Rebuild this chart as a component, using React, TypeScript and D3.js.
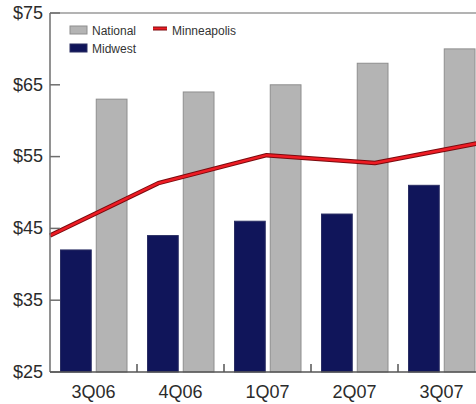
import React, { useEffect, useRef } from "react";
import * as d3 from "d3";

const categories = ["3Q06", "4Q06", "1Q07", "2Q07", "3Q07"];
const series = ["Midwest", "National"];
const midwest = [42, 44, 46, 47, 51];
const national = [63, 64, 65, 68, 70];
const lineLabels = ["p1", "p2", "p3", "p4", "p5"];
const minneapolis = [44, 51.3, 55.2, 54.1, 57];
const yTicks = [25, 35, 45, 55, 65, 75];

const W = 476;
const H = 404;
const FONT = "'Liberation Sans', Arial, sans-serif";

export default function App() {
  const ref = useRef<SVGSVGElement | null>(null);

  useEffect(() => {
    const svg = d3.select(ref.current);
    svg.selectAll("*").remove();

    const left = 50;
    const top = 13;
    const bottom = 372;
    const y = d3.scaleLinear().domain([25, 75]).range([bottom, top]);
    const x0 = d3.scaleBand().domain(categories).range([left, left + 87 * categories.length]).padding(0);
    const x1 = d3.scaleBand().domain(series).range([10.5, 77]).paddingInner(0.14);
    const xl = d3.scalePoint().domain(lineLabels).range([left, left + 4 * 108.3]);

    const colors: Record<string, string> = { Midwest: "#10155a", National: "#b4b4b4" };
    const strokes: Record<string, string> = { Midwest: "#2a2e63", National: "#8e8e8e" };
    const vals: Record<string, number[]> = { Midwest: midwest, National: national };

    // frame top line
    svg.append("line").attr("x1", left).attr("x2", W).attr("y1", top).attr("y2", top)
      .attr("stroke", "#9a9a9a").attr("stroke-width", 1.5);

    // bars
    const g = svg.append("g");
    categories.forEach((c, i) => {
      series.forEach((s) => {
        const v = vals[s][i];
        g.append("rect")
          .attr("x", (x0(c) as number) + (x1(s) as number))
          .attr("y", y(v))
          .attr("width", x1.bandwidth())
          .attr("height", bottom - y(v))
          .attr("fill", colors[s])
          .attr("stroke", strokes[s])
          .attr("stroke-width", 1);
      });
    });

    // line
    const line = d3.line<number>().x((_, i) => xl(lineLabels[i]) as number).y((d) => y(d));
    svg.append("path").datum(minneapolis).attr("d", line).attr("fill", "none")
      .attr("stroke", "#7a0a0e").attr("stroke-width", 4.5).attr("stroke-linejoin", "round");
    svg.append("path").datum(minneapolis).attr("d", line).attr("fill", "none")
      .attr("stroke", "#ee1c24").attr("stroke-width", 2.5).attr("stroke-linejoin", "round");

    // y axis
    svg.append("line").attr("x1", left).attr("x2", left).attr("y1", top).attr("y2", bottom)
      .attr("stroke", "#6e6e6e").attr("stroke-width", 1.5);
    yTicks.forEach((t) => {
      svg.append("line").attr("x1", left).attr("x2", left + 10).attr("y1", y(t)).attr("y2", y(t))
        .attr("stroke", "#6e6e6e").attr("stroke-width", 1.5);
      svg.append("text").attr("x", 43).attr("y", y(t) + 1).attr("text-anchor", "end")
        .attr("dominant-baseline", "middle").attr("font-family", FONT).attr("font-size", 18)
        .attr("fill", "#2b2b2b").text(`$${t}`);
    });

    // x axis
    svg.append("line").attr("x1", left).attr("x2", W).attr("y1", bottom).attr("y2", bottom)
      .attr("stroke", "#555").attr("stroke-width", 1.5);
    categories.forEach((c) => {
      const xs = x0(c) as number;
      if (xs > left) {
        svg.append("line").attr("x1", xs).attr("x2", xs).attr("y1", bottom).attr("y2", bottom - 8)
          .attr("stroke", "#555").attr("stroke-width", 1.5);
      }
      svg.append("text").attr("x", xs + x0.bandwidth() / 2).attr("y", 398).attr("text-anchor", "middle")
        .attr("font-family", FONT).attr("font-size", 18).attr("fill", "#2b2b2b").text(c);
    });
    const endTick = left + 87 * categories.length;
    if (endTick < W) {
      svg.append("line").attr("x1", endTick).attr("x2", endTick).attr("y1", bottom).attr("y2", bottom - 8)
        .attr("stroke", "#555").attr("stroke-width", 1.5);
    }

    // legend
    const lg = svg.append("g").attr("font-family", FONT).attr("font-size", 12).attr("fill", "#333");
    lg.append("rect").attr("x", 70).attr("y", 26).attr("width", 17).attr("height", 8)
      .attr("fill", colors.National).attr("stroke", strokes.National);
    lg.append("text").attr("x", 92).attr("y", 34.5).text("National");
    lg.append("rect").attr("x", 70).attr("y", 44).attr("width", 17).attr("height", 8)
      .attr("fill", colors.Midwest).attr("stroke", strokes.Midwest);
    lg.append("text").attr("x", 92).attr("y", 52.5).text("Midwest");
    lg.append("line").attr("x1", 153).attr("x2", 167).attr("y1", 28.5).attr("y2", 28.5)
      .attr("stroke", "#7a0a0e").attr("stroke-width", 4);
    lg.append("line").attr("x1", 153).attr("x2", 167).attr("y1", 28.5).attr("y2", 28.5)
      .attr("stroke", "#ee1c24").attr("stroke-width", 2);
    lg.append("text").attr("x", 172).attr("y", 34.5).text("Minneapolis");
  }, []);

  return (
    <svg
      ref={ref}
      width={W}
      height={H}
      style={{ position: "absolute", left: 0, top: 0, background: "#fff" }}
    />
  );
}
